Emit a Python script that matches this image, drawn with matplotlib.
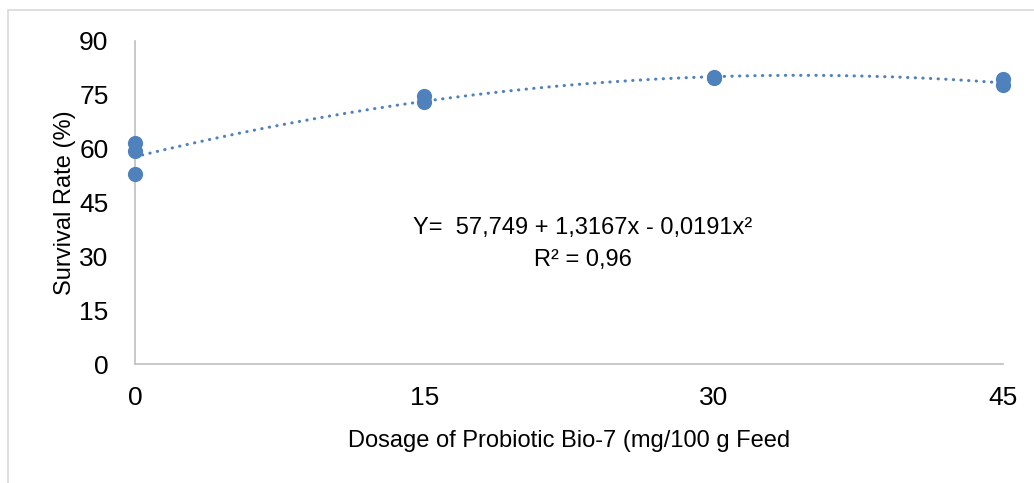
import numpy as np
import matplotlib
matplotlib.use("Agg")
import matplotlib.pyplot as plt
from matplotlib.patches import Rectangle

# survival rate per dosage (replicates)
dosage = [0, 0, 0, 15, 15, 30, 30, 45, 45]
survival = [61.6, 59.3, 52.9, 74.7, 73.0, 80.1, 79.8, 79.4, 77.8]

# quadratic trendline coefficients as printed on the chart (c0, c1, c2)
coef = [57.749, 1.3167, -0.0191]

x_ticks = [0, 15, 30, 45]
y_ticks = [0, 15, 30, 45, 60, 75, 90]

FONT = ["Liberation Sans Narrow", "Liberation Sans", "DejaVu Sans"]
BLUE = "#4F81BD"
GRID = "#BFBFBF"

W, H = 1034, 483
fig = plt.figure(figsize=(W / 100, H / 100), dpi=100)
fig.patch.set_facecolor("white")

# light frame around the chart area
fig.patches.append(Rectangle((8 / W, -0.1), 1.2, 1.1 - 10 / H,
                             transform=fig.transFigure, fill=False,
                             edgecolor="#D9D9D9", linewidth=1.2))

ax = fig.add_axes([135 / W, 1 - 364 / H, (1003 - 135) / W, (364 - 41) / H])
ax.set_xlim(0, 45)
ax.set_ylim(0, 90)

# trendline
xs = np.linspace(0, 45, 200)
ys = coef[0] + coef[1] * xs + coef[2] * xs ** 2
ax.plot(xs, ys, color=BLUE, linewidth=2.2, linestyle=(0, (0.1, 2.4)),
        dash_capstyle="round", zorder=2)

ax.scatter(dosage, survival, s=120, color=BLUE, zorder=3, clip_on=False,
           linewidths=0)

for side in ["top", "right"]:
    ax.spines[side].set_visible(False)
for side in ["left", "bottom"]:
    ax.spines[side].set_color(GRID)
    ax.spines[side].set_linewidth(1.2)

ax.set_xticks(x_ticks)
ax.set_yticks(y_ticks)
ax.tick_params(length=0, labelsize=19, labelcolor="black")
ax.tick_params(axis="y", pad=19)
ax.tick_params(axis="x", pad=16)
for lab in ax.get_yticklabels():
    lab.set_family(FONT)
for lab in ax.get_xticklabels():
    lab.set_family(FONT)

ax.set_ylabel("Survival Rate (%)", fontsize=17, family=FONT, labelpad=2)
ax.set_xlabel("Dosage of Probiotic Bio-7 (mg/100 g Feed", fontsize=17,
              family=FONT, labelpad=14)

ax.text(0.516, 0.421, "Y=  57,749 + 1,3167x - 0,0191x²", transform=ax.transAxes,
        ha="center", va="center", fontsize=17, family=FONT)
ax.text(0.516, 0.322, "R² = 0,96", transform=ax.transAxes,
        ha="center", va="center", fontsize=17, family=FONT)

fig.savefig("out.png", dpi=100)
